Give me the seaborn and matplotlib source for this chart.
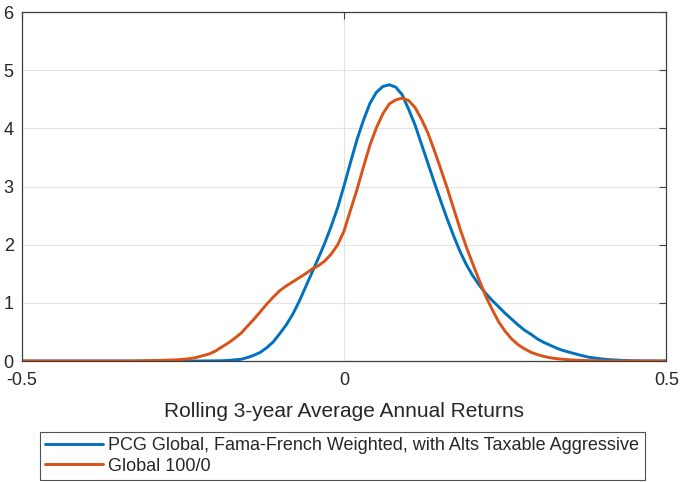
import numpy as np
import pandas as pd
import matplotlib
matplotlib.use("Agg")
import matplotlib.pyplot as plt
import seaborn as sns

# x grid of the density curves, -0.50 .. 0.50 in steps of 0.01
returns = np.round(np.linspace(-0.5, 0.5, 101), 2)

# densities, one row per 0.10 of x
pcg_density = [
    0, 0, 0, 0, 0, 0, 0, 0, 0, 0,                                        # -0.50
    0, 0, 0, 0, 0, 0, 0, 0, 0, 0,                                        # -0.40
    0, 0, 0, 0, 0, 0, 0, 0, 0.001, 0.002,                                # -0.30
    0.003, 0.005, 0.01, 0.02, 0.03, 0.06, 0.10, 0.15, 0.23, 0.33,        # -0.20
    0.47, 0.62, 0.80, 1.02, 1.27, 1.52, 1.77, 2.03, 2.32, 2.64,          # -0.10
    3.02, 3.42, 3.81, 4.14, 4.43, 4.62, 4.72, 4.75, 4.71, 4.58,          # 0.00
    4.33, 4.06, 3.73, 3.40, 3.07, 2.75, 2.44, 2.15, 1.88, 1.65,          # 0.10
    1.46, 1.30, 1.16, 1.04, 0.93, 0.82, 0.72, 0.62, 0.53, 0.46,          # 0.20
    0.38, 0.32, 0.27, 0.22, 0.18, 0.15, 0.12, 0.09, 0.065, 0.05,         # 0.30
    0.035, 0.025, 0.018, 0.012, 0.008, 0.005, 0.003, 0.002, 0.001, 0,    # 0.40
    0,                                                                   # 0.50
]

global_density = [
    0, 0, 0, 0, 0, 0, 0, 0, 0, 0,                                        # -0.50
    0, 0, 0, 0, 0, 0, 0, 0, 0.003, 0.005,                                # -0.40
    0.008, 0.01, 0.013, 0.017, 0.02, 0.03, 0.04, 0.06, 0.09, 0.12,       # -0.30
    0.17, 0.24, 0.31, 0.39, 0.48, 0.60, 0.72, 0.85, 0.98, 1.10,          # -0.20
    1.21, 1.29, 1.36, 1.43, 1.50, 1.58, 1.64, 1.72, 1.84, 2.00,          # -0.10
    2.24, 2.60, 2.95, 3.34, 3.71, 4.01, 4.25, 4.42, 4.49, 4.52,          # 0.00
    4.48, 4.36, 4.16, 3.92, 3.62, 3.30, 2.97, 2.62, 2.27, 1.95,          # 0.10
    1.66, 1.38, 1.11, 0.88, 0.67, 0.51, 0.38, 0.28, 0.21, 0.15,          # 0.20
    0.11, 0.08, 0.055, 0.04, 0.03, 0.02, 0.015, 0.01, 0.007, 0.005,      # 0.30
    0.003, 0, 0, 0, 0, 0, 0, 0, 0, 0,                                    # 0.40
    0,                                                                   # 0.50
]

series_names = [
    "PCG Global, Fama-French Weighted, with Alts Taxable Aggressive",
    "Global 100/0",
]
colors = ["#0072BD", "#D95319"]

df = pd.concat([
    pd.DataFrame({"ret": returns, "density": pcg_density, "series": series_names[0]}),
    pd.DataFrame({"ret": returns, "density": global_density, "series": series_names[1]}),
])

sns.set_theme(style="white")
plt.rcParams["font.family"] = ["Liberation Sans", "DejaVu Sans"]

fig = plt.figure(figsize=(6.89, 4.82), dpi=100)
ax = fig.add_axes([0.032, 0.251, 0.935, 0.724])

sns.lineplot(data=df, x="ret", y="density", hue="series", hue_order=series_names,
             palette=colors, linewidth=2.1, ax=ax, legend=False)

ax.set_xlim(-0.5, 0.5)
ax.set_ylim(0, 6)
ax.set_xticks([-0.5, 0, 0.5])
ax.set_xticklabels(["-0.5", "0", "0.5"])
ax.set_yticks(range(0, 7))
ax.grid(True, color="#e3e3e3", linewidth=0.8)
ax.set_axisbelow(True)
for s in ax.spines.values():
    s.set_color("#404040")
    s.set_linewidth(0.9)
ax.tick_params(direction="in", length=5, width=0.8, color="#404040",
               top=True, right=True, labelsize=13, labelcolor="#262626")
ax.tick_params(axis="x", pad=8)
ax.tick_params(axis="y", pad=6)
ax.set_xlabel("Rolling 3-year Average Annual Returns", fontsize=15, color="#262626", labelpad=9)
ax.set_ylabel("")

handles = [plt.Line2D([], [], color=c, linewidth=2.1) for c in colors]
leg = ax.legend(handles, series_names, loc="upper center", bbox_to_anchor=(0.497, -0.203),
                borderaxespad=0, frameon=True, fancybox=False, fontsize=13,
                handlelength=3.2, handletextpad=0.3, borderpad=0.3, labelspacing=0.18)
leg.get_frame().set_edgecolor("#262626")
leg.get_frame().set_linewidth(0.8)

fig.savefig("out.png", dpi=100)
